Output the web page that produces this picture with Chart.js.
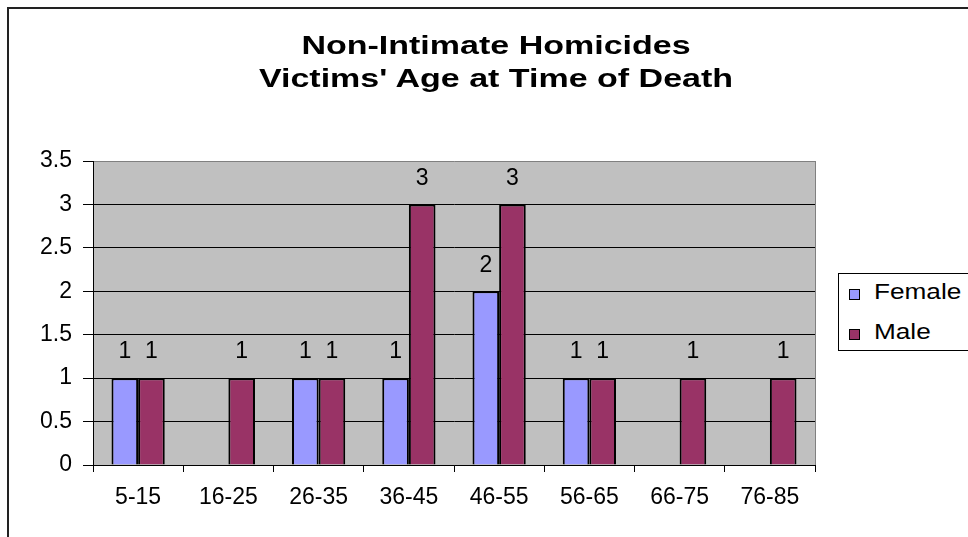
<!DOCTYPE html>
<html>
<head>
<meta charset="utf-8">
<script src="https://cdn.jsdelivr.net/npm/chart.js@4/dist/chart.umd.min.js"></script>
<style>
  html, body { margin: 0; padding: 0; background: #fff; overflow: hidden; }
  #wrap { position: relative; width: 968px; height: 537px; overflow: hidden; font-family: "Liberation Sans", Arial, sans-serif; }
  #frame { position: absolute; left: 7px; top: 7px; width: 1200px; height: 800px; border: 2px solid #222; box-sizing: border-box; }
  canvas { position: absolute; left: 0; top: 0; }
  #title { position: absolute; left: 12px; top: 29px; width: 968px; text-align: center; font-weight: bold; font-size: 25px; line-height: 33px; color: #000; transform: scaleX(1.36); transform-origin: center; }
  #legend { position: absolute; left: 838px; top: 273px; width: 200px; height: 78px; border: 1px solid #000; box-sizing: border-box; background: #fff; }
  .sw { position: absolute; width: 11px; height: 11px; border: 1px solid #000; box-sizing: border-box; }
  .lt { position: absolute; font-size: 22px; line-height: 22px; color: #000; transform: scaleX(1.19); transform-origin: left; white-space: nowrap; }
</style>
</head>
<body>
<div id="wrap">
  <div id="frame"></div>
  <canvas id="c" width="968" height="537"></canvas>
  <div id="title">Non-Intimate Homicides<br>Victims' Age at Time of Death</div>
  <div id="legend"></div>
</div>
<script>
const ageGroups = ['5-15', '16-25', '26-35', '36-45', '46-55', '56-65', '66-75', '76-85'];
const femaleVictims = [1, null, 1, 1, 2, 1, null, null];
const maleVictims = [1, 1, 1, 3, 3, 1, 1, 1];
const seriesNames = ['Female', 'Male'];
const seriesColors = ['#9999FF', '#993366'];
const yMin = 0, yMax = 3.5, yStep = 0.5;

// HTML legend built from series arrays
const legend = document.getElementById('legend');
seriesNames.forEach((name, i) => {
  const sw = document.createElement('div');
  sw.className = 'sw';
  sw.style.left = '10px';
  sw.style.top = (i === 0 ? 15 : 55) + 'px';
  sw.style.background = seriesColors[i];
  legend.appendChild(sw);
  const t = document.createElement('div');
  t.className = 'lt';
  t.style.left = '35px';
  t.style.top = (i === 0 ? 7 : 47) + 'px';
  t.textContent = name;
  legend.appendChild(t);
});

const FONT = { family: '"Liberation Sans", Arial, sans-serif', size: 23 };

const plotBg = {
  id: 'plotBg',
  beforeDraw(chart) {
    const { ctx, chartArea: a } = chart;
    ctx.save();
    ctx.fillStyle = '#C0C0C0';
    ctx.fillRect(a.left, a.top, a.right - a.left, a.bottom - a.top);
    ctx.restore();
  },
  afterDraw(chart) {
    const { ctx, chartArea: a } = chart;
    ctx.save();
    ctx.strokeStyle = '#808080';
    ctx.lineWidth = 1;
    ctx.beginPath();
    ctx.moveTo(Math.round(a.right) + 0.5, a.top);
    ctx.lineTo(Math.round(a.right) + 0.5, a.bottom);
    ctx.stroke();
    ctx.restore();
  }
};

const valueLabels = {
  id: 'valueLabels',
  afterDatasetsDraw(chart) {
    const { ctx } = chart;
    ctx.save();
    ctx.font = FONT.size + 'px ' + FONT.family;
    ctx.fillStyle = '#000';
    ctx.textAlign = 'center';
    ctx.textBaseline = 'middle';
    chart.data.datasets.forEach((ds, di) => {
      const meta = chart.getDatasetMeta(di);
      meta.data.forEach((el, i) => {
        const v = ds.data[i];
        if (v === null || v === undefined) return;
        ctx.fillText(String(v), el.x, el.y - 26);
      });
    });
    ctx.restore();
  }
};

new Chart(document.getElementById('c'), {
  type: 'bar',
  data: {
    labels: ageGroups,
    datasets: [
      { label: seriesNames[0], data: femaleVictims, backgroundColor: seriesColors[0], borderColor: '#000', borderWidth: 2 },
      { label: seriesNames[1], data: maleVictims, backgroundColor: seriesColors[1], borderColor: '#000', borderWidth: 2 }
    ]
  },
  options: {
    responsive: false,
    animation: false,
    devicePixelRatio: 1,
    layout: { padding: { top: 161, right: 153, left: 0, bottom: 0 } },
    datasets: { bar: { categoryPercentage: 0.59, barPercentage: 1.0 } },
    plugins: { legend: { display: false }, title: { display: false }, tooltip: { enabled: false } },
    scales: {
      x: {
        grid: { display: true, drawOnChartArea: false, offset: true, tickLength: 7, color: '#000', tickColor: '#000' },
        border: { display: true, color: '#000', width: 1 },
        ticks: { font: FONT, color: '#000', padding: 12, maxRotation: 0 },
        afterFit(scale) { scale.height = 72; }
      },
      y: {
        min: yMin, max: yMax,
        grid: {
          color: (c) => (c.tick && c.tick.value === yMax ? '#808080' : '#000'),
          tickColor: '#000', tickLength: 10, lineWidth: 1
        },
        border: { display: true, color: '#000', width: 1 },
        ticks: { stepSize: yStep, font: FONT, color: '#000', padding: 11, callback: (v) => String(v) },
        afterFit(scale) { scale.width = 93; }
      }
    }
  },
  plugins: [plotBg, valueLabels]
});
</script>
</body>
</html>
